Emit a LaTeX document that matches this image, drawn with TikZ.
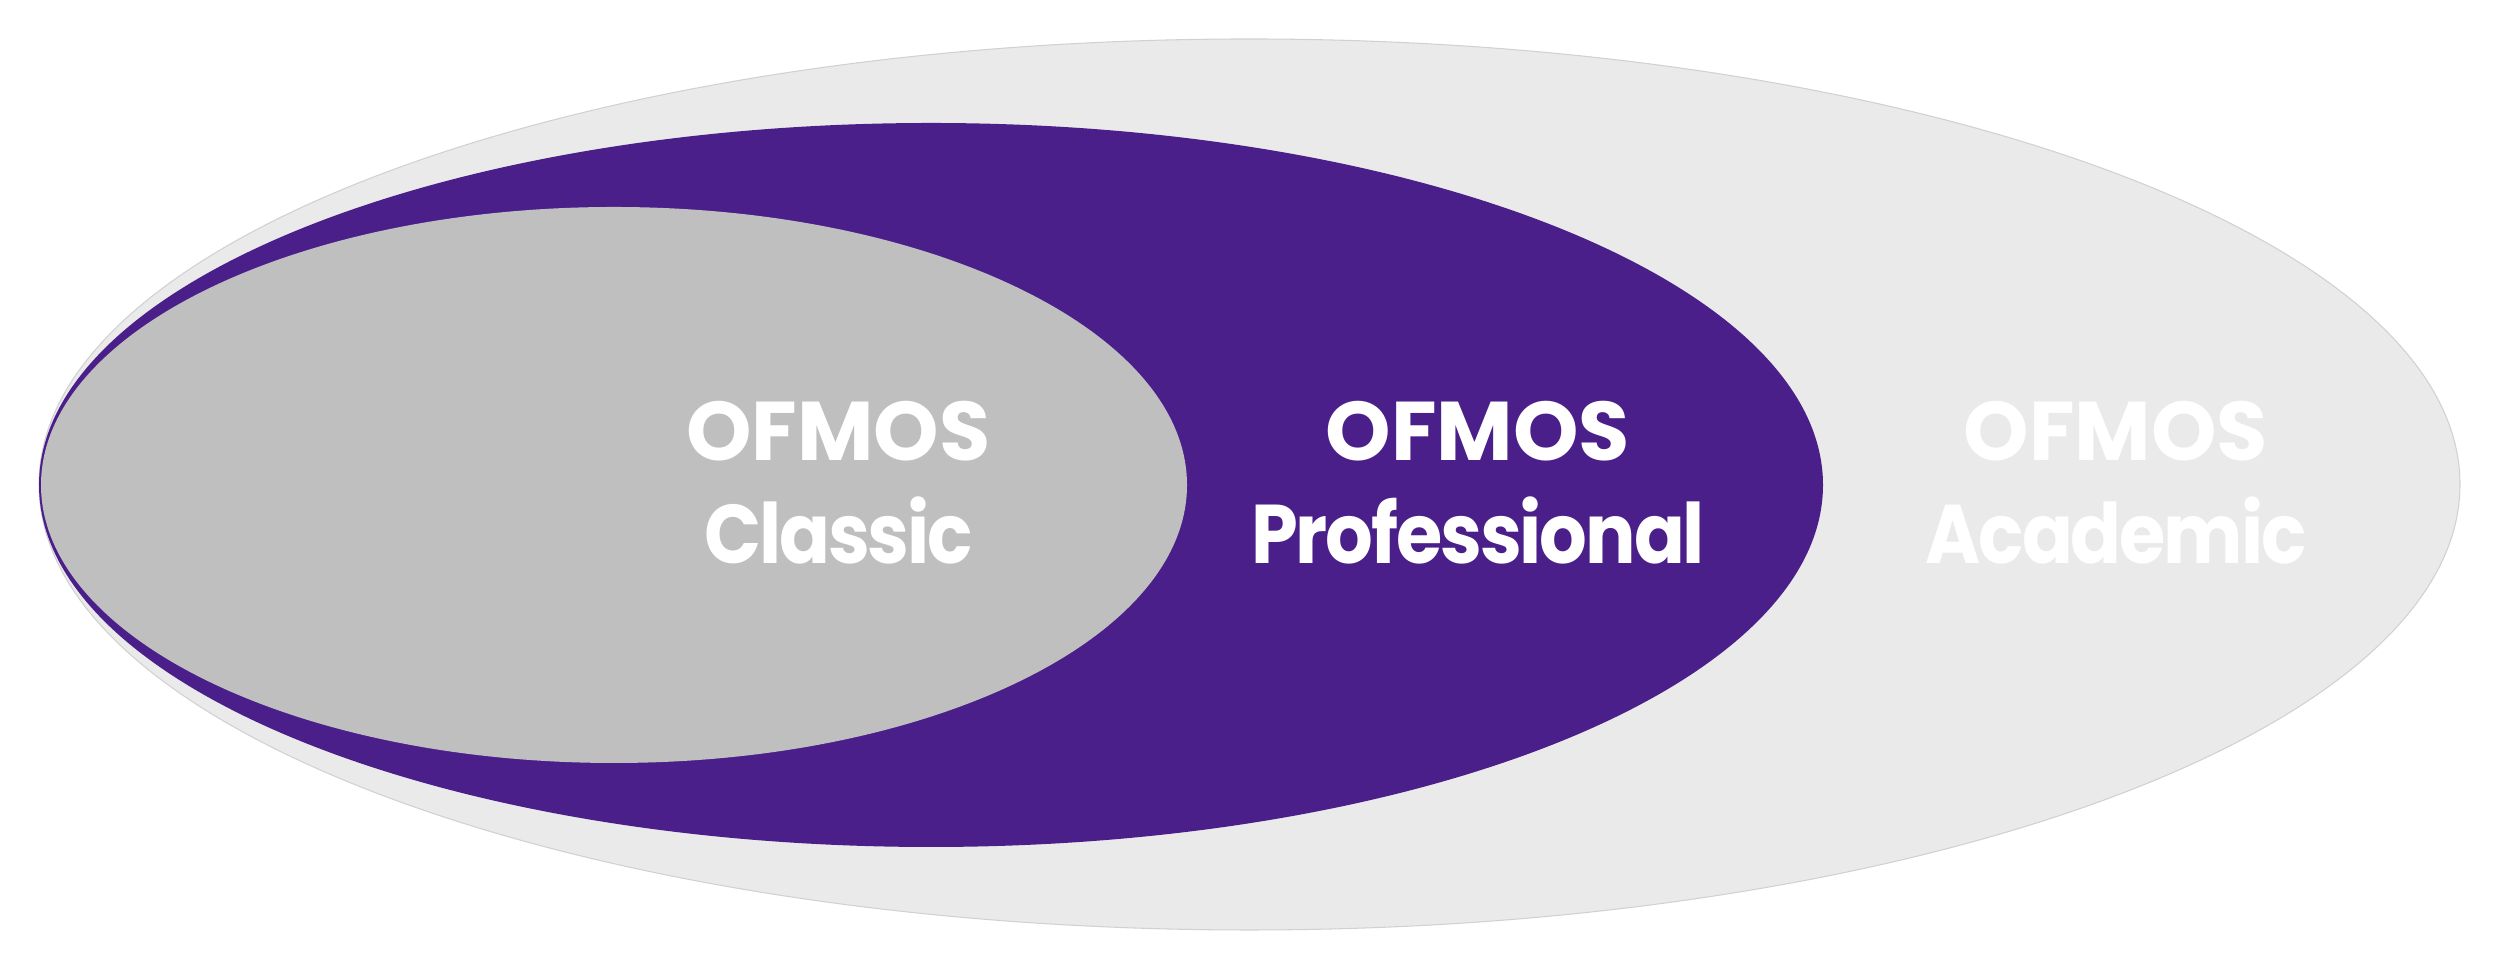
\documentclass[tikz,border=0pt]{standalone}
\usepackage{fontspec}
\newfontfamily\labelfont{Poppins}
\newfontfamily\namefont{Poppins}[FakeStretch=0.9, LetterSpace=-2.5]
\definecolor{oflight}{RGB}{234,234,234}
\definecolor{ofpurple}{RGB}{75,31,137}
\definecolor{ofgray}{RGB}{191,191,191}
\tikzset{>=latex}

\begin{document}
\begin{tikzpicture}[line join = round,
    product/.style={text=white, align=center, inner sep=0pt, anchor=center,
        font=\labelfont\bfseries\fontsize{23.7}{29.3}\selectfont}]
    \useasboundingbox (0,0) rectangle (25,9.71);

    % outer edition
    \draw[fill=oflight, draw=black!18, line width=0.3pt] (12.495,4.865) ellipse [x radius=12.105, y radius=4.455];
    \fill[ofpurple] (9.31,4.86) ellipse [x radius=8.92, y radius=3.62];
    \fill[ofgray] (6.14,4.86) ellipse [x radius=5.73, y radius=2.78];

    \node[product] (classic) at (8.385,4.885) {OFMOS\\\namefont\bfseries Classic};
    \node[product] (professional) at (14.78,4.885) {OFMOS\\\namefont\bfseries Professional};
    \node[product] (academic) at (21.16,4.885) {OFMOS\\\namefont\bfseries Academic};

\end{tikzpicture}
\end{document}
